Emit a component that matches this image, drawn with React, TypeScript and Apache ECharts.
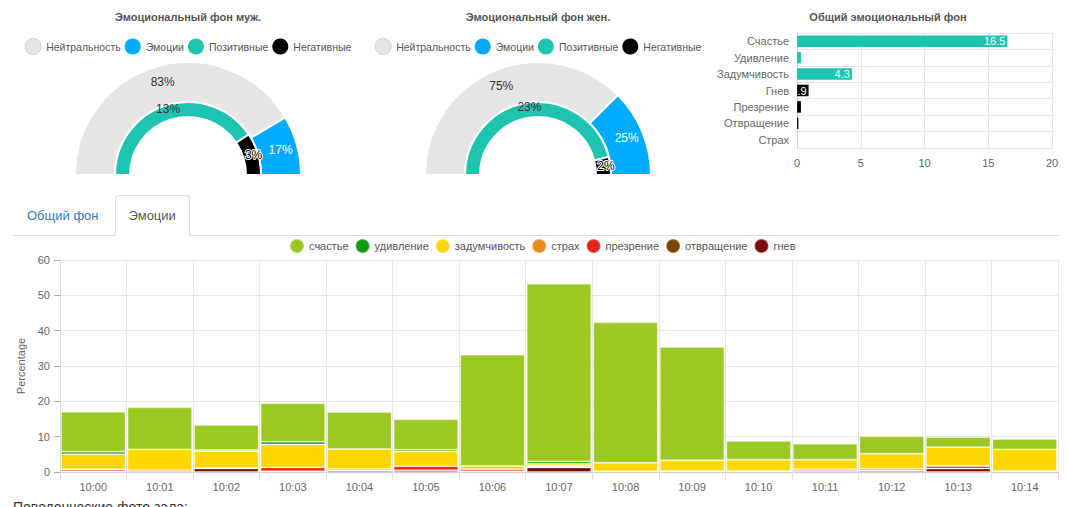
import React, { useEffect, useRef } from "react";
import * as echarts from "echarts";

const FONT = '"Liberation Sans", Arial, Helvetica, sans-serif';

// Gauges: men / women
const gaugeTitles = ["Эмоциональный фон муж.", "Эмоциональный фон жен."];
const neutralShare = [83, 75];
const emotionShare = [17, 25];
const positiveShare = [13, 23];
const negativeShare = [3, 2];

// Overall emotional background
const overallTitle = "Общий эмоциональный фон";
const overallEmotions = ["Счастье", "Удивление", "Задумчивость", "Гнев", "Презрение", "Отвращение", "Страх"];
const overallValues = [16.5, 0.3, 4.3, 0.9, 0.3, 0.1, 0];
const overallIsPositive = [true, true, true, false, false, false, false];

// Emotions by minute
const minutes = ["10:00", "10:01", "10:02", "10:03", "10:04", "10:05", "10:06", "10:07", "10:08", "10:09", "10:10", "10:11", "10:12", "10:13", "10:14"];
const happiness = [11.3, 11.9, 7.1, 10.9, 10.5, 8.6, 31.5, 50.3, 39.8, 32.1, 5.3, 4.5, 4.9, 2.9, 2.95];
const surprise = [0.7, 0, 0.3, 0.75, 0, 0.5, 0, 0.65, 0, 0, 0, 0, 0, 0, 0];
const thoughtfulness = [4.3, 5.9, 4.75, 6.5, 5.7, 4.2, 0.9, 0.55, 2.4, 3.0, 3.2, 2.75, 4.35, 5.2, 6.1];
const fear = [0.1, 0, 0, 0, 0, 0, 0, 0.2, 0, 0, 0, 0, 0, 0.1, 0];
const contempt = [0.5, 0.4, 0.15, 1.1, 0.4, 1.1, 0.6, 0.3, 0.2, 0.3, 0.3, 0.4, 0.45, 0.7, 0.3];
const disgust = [0, 0, 0, 0, 0, 0, 0, 0, 0, 0, 0, 0, 0, 0, 0];
const anger = [0.15, 0.1, 1.0, 0.2, 0.4, 0.5, 0.2, 1.3, 0, 0, 0, 0.35, 0.4, 1.0, 0];

const GRAY = "#e5e5e5";
const BLUE = "#00aaff";
const TEAL = "#1fc4b0";
const BLACK = "#000000";

// stacked from the bottom up
const emotionSeries = [
  { name: "гнев", color: "#7a0c0c", data: anger },
  { name: "отвращение", color: "#7a4500", data: disgust },
  { name: "презрение", color: "#e2231a", data: contempt },
  { name: "страх", color: "#e88a1c", data: fear },
  { name: "задумчивость", color: "#ffd700", data: thoughtfulness },
  { name: "удивление", color: "#0b9b0b", data: surprise },
  { name: "счастье", color: "#9bc823", data: happiness },
];
const emotionLegend = ["счастье", "удивление", "задумчивость", "страх", "презрение", "отвращение", "гнев"];

function EChart({ option, style }: { option: any; style: React.CSSProperties }) {
  const ref = useRef<HTMLDivElement>(null);
  useEffect(() => {
    if (!ref.current) return;
    const chart = echarts.init(ref.current, undefined, { renderer: "svg" });
    chart.setOption(option);
    return () => chart.dispose();
  }, [option]);
  return <div ref={ref} style={{ position: "absolute", ...style }} />;
}

function gaugeOption(i: number) {
  const outerTotal = neutralShare[i] + emotionShare[i];
  const innerTotal = positiveShare[i] + negativeShare[i];
  const label = (color: string, outlined = false) => ({
    show: true,
    position: "inside",
    formatter: "{c}%",
    color,
    fontSize: 12,
    fontFamily: FONT,
    textBorderColor: "#fff",
    textBorderWidth: outlined ? 2 : 0,
  });
  const hidden = (v: number) => ({
    value: v,
    name: "",
    itemStyle: { color: "rgba(0,0,0,0)", borderWidth: 0 },
    label: { show: false },
  });
  const ring = {
    type: "pie",
    center: [174, 175],
    startAngle: 180,
    clockwise: true,
    avoidLabelOverlap: false,
    silent: true,
    emphasis: { disabled: true },
    labelLine: { show: false },
    itemStyle: { borderColor: "#fff", borderWidth: 2 },
  };
  return {
    animation: false,
    textStyle: { fontFamily: FONT },
    title: {
      text: gaugeTitles[i],
      left: "center",
      top: 11,
      padding: 0,
      textStyle: { fontSize: 11, fontWeight: "bold", color: "#555", fontFamily: FONT },
    },
    legend: {
      top: 38,
      left: "center",
      padding: 0,
      itemGap: 4,
      itemWidth: 16,
      itemHeight: 16,
      icon: "circle",
      textStyle: { fontSize: 10.5, color: "#555", fontFamily: FONT },
      data: [
        { name: "Нейтральность", itemStyle: { borderColor: "#cfcfcf", borderWidth: 1 } },
        { name: "Эмоции", itemStyle: { borderWidth: 0 } },
        { name: "Позитивные", itemStyle: { borderWidth: 0 } },
        { name: "Негативные", itemStyle: { borderWidth: 0 } },
      ],
    },
    series: [
      {
        ...ring,
        radius: [73, 113],
        data: [
          { value: neutralShare[i], name: "Нейтральность", itemStyle: { color: GRAY }, label: label("#333") },
          { value: emotionShare[i], name: "Эмоции", itemStyle: { color: BLUE }, label: label("#fff") },
          hidden(outerTotal),
        ],
      },
      {
        ...ring,
        radius: [58, 73],
        data: [
          { value: positiveShare[i], name: "Позитивные", itemStyle: { color: TEAL }, label: label("#333") },
          { value: negativeShare[i], name: "Негативные", itemStyle: { color: BLACK }, label: label("#000", true) },
          hidden(innerTotal),
        ],
      },
    ],
  };
}

const overallOption = {
  animation: false,
  textStyle: { fontFamily: FONT },
  title: {
    text: overallTitle,
    left: "center",
    top: 11,
    padding: 0,
    textStyle: { fontSize: 11, fontWeight: "bold", color: "#555", fontFamily: FONT },
  },
  grid: { left: 83, right: 10, top: 33, bottom: 32 },
  xAxis: {
    type: "value",
    min: 0,
    max: 20,
    interval: 5,
    axisLine: { show: true, lineStyle: { color: "#e5e5e5" } },
    axisTick: { show: false },
    axisLabel: { color: "#666", fontSize: 11, margin: 9 },
    splitLine: { lineStyle: { color: "#e5e5e5" } },
  },
  yAxis: {
    type: "category",
    inverse: true,
    data: overallEmotions,
    axisLine: { lineStyle: { color: "#ccc" } },
    axisTick: { show: false },
    axisLabel: { color: "#666", fontSize: 11, margin: 8 },
    splitLine: { show: true, lineStyle: { color: "#e5e5e5" } },
  },
  series: [
    {
      type: "bar",
      barWidth: "70%",
      silent: true,
      data: overallValues.map((v, k) => ({ value: v, itemStyle: { color: overallIsPositive[k] ? TEAL : BLACK } })),
      label: {
        show: true,
        position: "insideRight",
        distance: 2,
        color: "#fff",
        fontSize: 11,
        fontFamily: FONT,
        formatter: (p: any) => (p.value >= 0.5 ? String(p.value) : ""),
      },
    },
  ],
};

const emotionsOption = {
  animation: false,
  textStyle: { fontFamily: FONT },
  legend: {
    top: 2,
    left: 289,
    padding: 0,
    itemGap: 6,
    itemWidth: 14,
    itemHeight: 14,
    icon: "circle",
    textStyle: { fontSize: 11, color: "#555", fontFamily: FONT },
    data: emotionLegend,
  },
  grid: { left: 60, right: 10, top: 24, bottom: 35 },
  xAxis: {
    type: "category",
    data: minutes,
    axisLine: { lineStyle: { color: "#ccc" } },
    axisTick: { show: true, length: 8, lineStyle: { color: "#ddd" } },
    axisLabel: { color: "#666", fontSize: 11, margin: 9 },
    splitLine: { show: true, lineStyle: { color: "#e6e6e6" } },
  },
  yAxis: {
    type: "value",
    min: 0,
    max: 60,
    interval: 10,
    name: "Percentage",
    nameLocation: "middle",
    nameGap: 32,
    nameTextStyle: { color: "#666", fontSize: 11 },
    axisLine: { show: true, lineStyle: { color: "#ddd" } },
    axisTick: { show: true, length: 6, lineStyle: { color: "#aaa" } },
    axisLabel: { color: "#666", fontSize: 11, margin: 10 },
    splitLine: { lineStyle: { color: "#e6e6e6" } },
  },
  series: emotionSeries.map((s) => ({
    type: "bar",
    name: s.name,
    stack: "emotions",
    barCategoryGap: "3%",
    silent: true,
    itemStyle: { color: s.color, borderColor: "rgba(255,255,255,0.3)", borderWidth: 1 },
    data: s.data.map((v) => (v > 0 ? v : null)),
  })),
};

const men = gaugeOption(0);
const women = gaugeOption(1);

const tabBase: React.CSSProperties = {
  display: "block",
  padding: "10px 13px",
  lineHeight: "19px",
  fontSize: 13,
  marginRight: 2,
  borderRadius: "4px 4px 0 0",
  border: "1px solid transparent",
  marginBottom: -1,
};

export default function App() {
  return (
    <div
      style={{
        position: "absolute",
        left: 0,
        top: 0,
        width: 1068,
        height: 507,
        overflow: "hidden",
        background: "#fff",
        fontFamily: FONT,
        color: "#333",
      }}
    >
      <EChart option={men} style={{ left: 14, top: 0, width: 348, height: 180 }} />
      <EChart option={women} style={{ left: 364, top: 0, width: 348, height: 180 }} />
      <EChart option={overallOption} style={{ left: 714, top: 0, width: 348, height: 180 }} />

      <div
        style={{
          position: "absolute",
          left: 13,
          top: 194,
          width: 1047,
          height: 41,
          borderBottom: "1px solid #ddd",
          display: "flex",
          alignItems: "flex-end",
        }}
      >
        <span style={{ ...tabBase, color: "#337ab7" }}>Общий фон</span>
        <span
          style={{
            ...tabBase,
            color: "#555",
            background: "#fff",
            border: "1px solid #ddd",
            borderBottomColor: "transparent",
          }}
        >
          Эмоции
        </span>
      </div>

      <EChart option={emotionsOption} style={{ left: 0, top: 236, width: 1068, height: 271 }} />

      <div style={{ position: "absolute", left: 13, top: 497, fontSize: 14, lineHeight: "20px", color: "#333" }}>
        Поведенческие фото зала:
      </div>
    </div>
  );
}
